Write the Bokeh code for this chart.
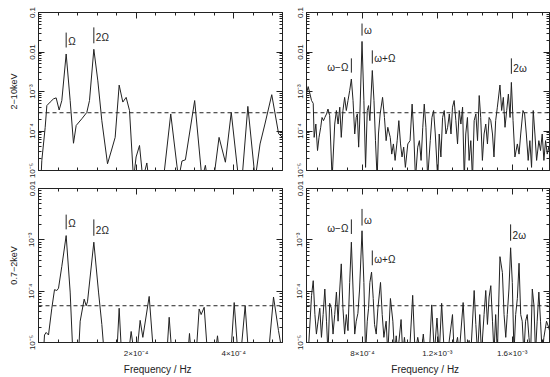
from bokeh.plotting import figure
from bokeh.models import Range1d, FixedTicker, LinearAxis, LogAxis, Span
from bokeh.layouts import gridplot
from bokeh.core.properties import value
from bokeh.embed import file_html
from bokeh.resources import INLINE

FONT = "Liberation Sans"
INK = "#222222"
FREQ_UNIT = 1e-4  # frequencies below are listed in units of 1e-4 Hz

# ---------------- data ----------------
# 2-10 keV, low-frequency range (0 - 5e-4 Hz)
hard_low_freq = [0.00, 0.05, 0.068, 0.137, 0.171, 0.239, 0.307, 0.362, 0.423, 0.478, 0.567, 0.649,
                 0.717, 0.772, 0.888, 0.990, 1.045, 1.134, 1.216, 1.298, 1.414, 1.503, 1.571, 1.653,
                 1.728, 1.796, 1.865, 1.947, 2.00, 2.07, 2.138, 2.22, 2.26, 2.56, 2.71, 2.87, 2.94,
                 3.01, 3.20, 3.35, 3.42, 3.46, 3.59, 3.70, 3.83, 3.95, 4.10, 4.17, 4.29, 4.44, 4.54,
                 4.64, 4.78, 4.92, 5.00]
hard_low_power = [6e-6, 6e-6, 1.8e-5, 1.23e-4, 4.4e-4, 5.4e-4, 6.5e-4, 6.9e-4, 3.4e-4, 5.9e-4, 8.9e-3,
                  5.9e-4, 4.9e-5, 1.38e-4, 2.04e-4, 2.95e-4, 5.9e-4, 1.17e-2, 1.86e-3, 1.82e-4, 1.48e-5,
                  3.5e-5, 6.9e-5, 1.45e-3, 5.4e-4, 7.1e-4, 3.3e-4, 6e-6, 2.2e-5, 4.3e-5, 6e-6, 1.55e-5,
                  6e-6, 6e-6, 2.7e-4, 6e-6, 1.74e-5, 1.86e-5, 5.9e-4, 6e-6, 1.35e-5, 6e-6, 6e-6, 6.9e-5,
                  1.62e-5, 2.95e-4, 6e-6, 6e-6, 4.2e-4, 6e-6, 4.7e-5, 1.5e-4, 8.3e-4, 8.5e-5, 6.9e-5]

# 2-10 keV, high-frequency range (5e-4 - 1.8e-3 Hz)
hard_high_freq = [5.00, 5.09, 5.27, 5.36, 5.41, 5.50, 5.59, 5.67, 5.76, 5.83, 5.91, 5.98, 6.07, 6.15,
                  6.24, 6.37, 6.51, 6.60, 6.69, 6.78, 6.86, 6.95, 7.04, 7.13, 7.22, 7.31, 7.40, 7.49,
                  7.58, 7.66, 7.72, 7.79, 7.84, 7.97, 8.07, 8.16, 8.25, 8.32, 8.39, 8.52, 8.61, 8.69,
                  8.78, 8.85, 8.94, 9.07, 9.17, 9.26, 9.35, 9.48, 9.56, 9.65, 9.74, 9.85, 9.94, 10.03,
                  10.11, 10.20, 10.29, 10.42, 10.54, 10.65, 10.74, 10.83, 10.95, 11.04, 11.13, 11.22,
                  11.30, 11.39, 11.48, 11.62, 11.71, 11.80, 11.89, 12.02, 12.10, 12.19, 12.28, 12.37,
                  12.46, 12.55, 12.64, 12.73, 12.81, 12.90, 12.99, 13.08, 13.17, 13.26, 13.35, 13.44,
                  13.52, 13.61, 13.70, 13.79, 13.88, 13.97, 14.06, 14.15, 14.24, 14.32, 14.41, 14.50,
                  14.59, 14.68, 14.77, 14.86, 14.95, 15.03, 15.12, 15.21, 15.35, 15.44, 15.53, 15.62,
                  15.71, 15.80, 15.89, 15.96, 16.05, 16.15, 16.28, 16.37, 16.46, 16.58, 16.67, 16.76,
                  16.86, 16.95, 17.04, 17.13, 17.22, 17.31, 17.43, 17.52, 17.61, 17.70, 17.79, 17.88,
                  17.96, 18.00]
hard_high_power = [9.0e-4, 1.33e-3, 5.9e-4, 5.0e-4, 6.9e-5, 1.5e-4, 3.2e-5, 6.9e-5, 1.24e-4, 2.2e-4,
                   1.83e-4, 2.2e-4, 2.7e-4, 3.6e-4, 2.45e-4, 6e-6, 1.5e-4, 3.3e-4, 1.5e-4, 4.0e-4,
                   6.9e-5, 3.3e-4, 7.1e-4, 3.3e-4, 5.9e-4, 1.05e-3, 2.07e-3, 5.9e-4, 8.4e-5, 2.2e-4,
                   2.7e-4, 3.9e-5, 1.5e-4, 1.85e-2, 5.9e-4, 1.2e-5, 3.3e-4, 4.4e-4, 1.83e-4, 3.4e-3,
                   5.9e-4, 5.7e-5, 6e-6, 8.4e-5, 2.7e-4, 7.1e-4, 2.2e-4, 5.7e-5, 1.24e-4, 6.9e-5,
                   2.6e-5, 4.7e-5, 1.8e-5, 5.7e-5, 1.83e-4, 4.7e-5, 2.2e-5, 3.9e-5, 1.2e-5, 4.7e-5,
                   5.7e-5, 4.8e-4, 8.4e-5, 6e-6, 3.9e-5, 5.7e-5, 1.8e-5, 1.24e-4, 4.8e-4, 1.24e-4,
                   6e-6, 5.7e-5, 2.2e-4, 3.3e-4, 8.4e-5, 6e-6, 8.4e-5, 2.2e-5, 2.2e-4, 3.3e-4, 8.4e-5,
                   1.24e-4, 2.7e-4, 8.4e-5, 4.0e-4, 5.9e-4, 1.83e-4, 4.7e-5, 3.3e-4, 1.5e-4, 4.0e-4,
                   6e-6, 8.4e-5, 2.2e-4, 1.8e-5, 5.7e-5, 6e-6, 1.83e-4, 2.7e-4, 5.7e-5, 7.9e-4, 2.2e-4,
                   1.8e-5, 8.4e-5, 1.5e-4, 4.7e-5, 2.2e-4, 1.83e-4, 8.4e-5, 2.2e-5, 1.83e-4, 4.0e-4,
                   1.46e-3, 3.3e-4, 7.1e-4, 1.24e-4, 3.3e-4, 8.6e-4, 2.2e-4, 1.7e-3, 1.83e-4, 2.2e-5,
                   4.7e-5, 2.6e-5, 8.4e-5, 3.3e-4, 2.7e-4, 8.4e-5, 1.8e-5, 5.7e-5, 1.2e-5, 3.3e-4,
                   8.4e-5, 1.8e-5, 5.7e-5, 3.2e-5, 8.4e-5, 1.8e-5, 5.7e-5, 2.6e-5, 3.9e-5, 3.0e-5]

# 0.7-2 keV, low-frequency range
soft_low_freq = [0.00, 0.10, 0.123, 0.157, 0.205, 0.273, 0.328, 0.376, 0.41, 0.478, 0.567, 0.649,
                 0.704, 0.82, 0.854, 0.936, 0.977, 1.004, 1.134, 1.23, 1.298, 1.346, 1.605, 1.653,
                 1.701, 1.844, 1.899, 1.96, 2.015, 2.083, 2.138, 2.268, 2.357, 2.63, 2.678, 2.732,
                 3.06, 3.094, 3.128, 3.231, 3.292, 3.333, 3.395, 3.463, 3.62, 3.668, 3.709, 3.941,
                 4.01, 4.085, 4.146, 4.235, 4.303, 4.713, 4.816, 4.918, 5.00]
soft_low_power = [6e-6, 6e-6, 1.4e-5, 1.57e-5, 1.4e-5, 4.65e-5, 1.07e-4, 1.03e-4, 1.14e-4, 3.05e-4,
                  1.21e-3, 9.6e-5, 6e-6, 6e-6, 2.6e-5, 7.0e-5, 5.2e-5, 6.2e-5, 9.0e-4, 9.6e-5, 2.25e-5,
                  6e-6, 6e-6, 4.65e-5, 6e-6, 6e-6, 1.64e-5, 6e-6, 6e-6, 2.7e-5, 1.26e-5, 7.9e-5, 6e-6,
                  6e-6, 3.1e-5, 6e-6, 6e-6, 1.5e-5, 6e-6, 6e-6, 4.5e-5, 3.5e-5, 4.85e-5, 6e-6, 6e-6,
                  1.35e-5, 6e-6, 6e-6, 6.0e-5, 6e-6, 6e-6, 5.2e-5, 6e-6, 6e-6, 7.7e-5, 1.7e-5, 6e-6]

# 0.7-2 keV, high-frequency range
soft_high_freq = [5.09, 5.27, 5.36, 5.45, 5.53, 5.62, 5.71, 5.80, 5.89, 5.98, 6.07, 6.15, 6.24, 6.33,
                  6.42, 6.51, 6.60, 6.69, 6.78, 6.86, 6.95, 7.04, 7.13, 7.22, 7.31, 7.40, 7.49, 7.58,
                  7.66, 7.75, 7.84, 7.97, 8.07, 8.16, 8.25, 8.32, 8.39, 8.48, 8.57, 8.64, 8.73, 8.82,
                  8.96, 9.05, 9.14, 9.26, 9.35, 9.49, 9.62, 9.71, 9.80, 9.88, 10.06, 10.15, 10.24,
                  10.33, 10.51, 10.68, 10.81, 10.95, 11.13, 11.25, 11.34, 11.57, 11.70, 11.84, 11.98,
                  12.10, 12.23, 12.37, 12.55, 12.81, 12.90, 13.08, 13.17, 13.38, 13.52, 13.70, 13.79,
                  13.97, 14.06, 14.15, 14.27, 14.36, 14.50, 14.59, 14.68, 14.77, 14.86, 14.95, 15.03,
                  15.12, 15.21, 15.35, 15.48, 15.57, 15.66, 15.74, 15.83, 15.92, 16.01, 16.10, 16.19,
                  16.28, 16.37, 16.46, 16.54, 16.63, 16.72, 16.81, 16.90, 16.99, 17.08, 17.17, 17.25,
                  17.34, 17.43, 17.52, 17.61, 17.70, 17.84, 17.96, 18.00]
soft_high_power = [6e-6, 8.3e-5, 1.6e-4, 3.5e-5, 1.46e-5, 2.6e-5, 4.65e-5, 1.26e-5, 3.5e-5, 1.1e-4,
                   2.6e-5, 6e-6, 5.8e-5, 4.65e-5, 1.46e-5, 3.5e-5, 9.6e-5, 2.6e-5, 1.1e-4, 3.4e-4,
                   4.65e-5, 1.46e-5, 3.5e-5, 1.7e-5, 1.48e-4, 9.0e-4, 1.1e-4, 1.46e-5, 2.6e-5, 3.7e-5,
                   1.1e-4, 1.5e-3, 1.48e-4, 6e-6, 2.6e-5, 4.65e-5, 1.48e-4, 2.35e-4, 7.2e-5, 2.25e-5,
                   1.46e-5, 4.65e-5, 1.48e-4, 3.5e-5, 1.26e-5, 2.6e-5, 6e-6, 7.2e-5, 2.6e-5, 6e-6,
                   1.35e-5, 6e-6, 2.8e-5, 6e-6, 1.26e-5, 6e-6, 6e-6, 8.3e-5, 6e-6, 1.26e-5, 6e-6,
                   1.46e-5, 6e-6, 6e-6, 5.4e-5, 6e-6, 3.0e-5, 6e-6, 5.8e-5, 6e-6, 6e-6, 3.5e-5, 6e-6,
                   1.26e-5, 6e-6, 6.0e-5, 6e-6, 1.1e-5, 6e-6, 1.03e-4, 2.25e-5, 6e-6, 3.5e-5, 6e-6,
                   3.5e-5, 1.03e-4, 2.25e-5, 7.7e-5, 1.28e-4, 2.6e-5, 6e-6, 3.5e-5, 6e-6, 4.7e-4,
                   2.3e-4, 3.5e-5, 1.26e-5, 3.5e-5, 1.1e-4, 7.0e-4, 1.48e-4, 6e-6, 3.5e-5, 7.2e-5,
                   3.5e-4, 3.5e-5, 2.6e-5, 6e-6, 2.6e-5, 3.5e-5, 1.26e-5, 6e-6, 1.1e-4, 5.2e-5, 6e-6,
                   2.6e-5, 9.6e-5, 2.6e-5, 6e-6, 1.26e-5, 2.6e-5, 1.95e-5, 1.7e-5]

# dashed significance levels
hard_level = 2.9e-4
soft_level = 5.2e-5

# feature marks: label, frequency (1e-4 Hz), bar bottom, bar top, label side
hard_low_marks = [("Ω", 0.567, 0.013, 0.031, "r"), ("2Ω", 1.134, 0.0166, 0.042, "r")]
hard_high_marks = [("ω", 7.97, 0.026, 0.0526, "r"), ("ω+Ω", 8.52, 0.0051, 0.011, "r"),
                   ("ω−Ω", 7.40, 0.0030, 0.0069, "l"), ("2ω", 15.96, 0.0028, 0.0069, "r")]
soft_low_marks = [("Ω", 0.567, 1.6e-3, 3.1e-3, "r"), ("2Ω", 1.134, 1.2e-3, 2.5e-3, "r")]
soft_high_marks = [("ω", 7.97, 1.9e-3, 4.0e-3, "r"), ("ω+Ω", 8.52, 3.2e-4, 6.2e-4, "r"),
                   ("ω−Ω", 7.40, 1.3e-3, 2.5e-3, "l"), ("2ω", 15.92, 9.6e-4, 2.0e-3, "r")]

# axes
low_xrange = (0.0, 5e-4)
high_xrange = (5e-4, 1.8e-3)
low_xticks = [2e-4, 4e-4]
low_xlabels = {2e-4: "2×10⁻⁴", 4e-4: "4×10⁻⁴"}
high_xticks = [8e-4, 1.2e-3, 1.6e-3]
high_xlabels = {8e-4: "8×10⁻⁴", 1.2e-3: "1.2×10⁻³", 1.6e-3: "1.6×10⁻³"}
low_xminor = [k * 4e-5 for k in range(0, 13)]
high_xminor = [5.6e-4 + k * 8e-5 for k in range(0, 16)]
y_decades = [1e-5, 1e-4, 1e-3, 1e-2, 1e-1]
y_labels = {1e-5: "10⁻⁵", 1e-4: "10⁻⁴", 1e-3: "10⁻³", 1e-2: "0.01", 1e-1: "0.1"}
y_minor = [m * d for d in [1e-5, 1e-4, 1e-3, 1e-2] for m in range(2, 10)]


def style_axis(ax, show_labels, label_size="8px", standoff=2):
    ax.axis_line_color = INK
    ax.major_tick_line_color = INK
    ax.minor_tick_line_color = INK
    ax.major_tick_in = 6
    ax.major_tick_out = 0
    ax.minor_tick_in = 3
    ax.minor_tick_out = 0
    ax.major_label_text_font = FONT
    if show_labels:
        ax.major_label_text_color = INK
        ax.major_label_text_font_size = label_size
        ax.major_label_standoff = standoff
    else:
        ax.major_label_text_color = None
        ax.major_label_text_font_size = "1px"
        ax.major_label_standoff = 0


def panel(freq, power, level, marks, xrange_, yrange_, xticks, xminor, xlabels, show_x,
          width, height, borders, ylabel=None, xlabel=None):
    left, right, top, bottom = borders
    p = figure(width=width, height=height, x_range=Range1d(*xrange_), y_range=Range1d(*yrange_),
               y_axis_type="log", output_backend="svg", toolbar_location=None,
               min_border_left=left, min_border_right=right, min_border_top=top,
               min_border_bottom=bottom)
    p.xgrid.visible = False
    p.ygrid.visible = False
    p.outline_line_color = INK
    p.background_fill_color = "white"
    p.border_fill_color = "white"

    xt = FixedTicker(ticks=xticks, minor_ticks=xminor)
    yt = FixedTicker(ticks=[d for d in y_decades if yrange_[0] <= d <= yrange_[1]], minor_ticks=y_minor)

    xa = p.xaxis[0]
    xa.ticker = xt
    xa.major_label_overrides = xlabels
    style_axis(xa, show_x, standoff=6)
    if xlabel:
        xa.axis_label = xlabel
        xa.axis_label_text_font = FONT
        xa.axis_label_text_font_style = "normal"
        xa.axis_label_text_font_size = "10px"
        xa.axis_label_text_color = INK
        xa.axis_label_standoff = 3

    ya = p.yaxis[0]
    ya.ticker = yt
    ya.major_label_overrides = y_labels
    ya.major_label_orientation = "vertical"
    style_axis(ya, True)
    if ylabel:
        ya.axis_label = ylabel
        ya.axis_label_text_font = FONT
        ya.axis_label_text_font_style = "normal"
        ya.axis_label_text_font_size = "9px"
        ya.axis_label_text_color = INK
        ya.axis_label_standoff = 6

    top_ax = LinearAxis(ticker=xt)
    style_axis(top_ax, False)
    p.add_layout(top_ax, "above")
    right_ax = LogAxis(ticker=yt)
    style_axis(right_ax, False)
    p.add_layout(right_ax, "right")

    p.line([f * FREQ_UNIT for f in freq], power, line_color=INK, line_width=1)
    p.add_layout(Span(location=level, dimension="width", line_color=INK, line_width=1,
                      line_dash="4 3"))

    for text, f, lo, hi, side in marks:
        x = f * FREQ_UNIT
        p.segment(x0=[x], y0=[lo], x1=[x], y1=[hi], line_color=INK, line_width=1)
        if side == "r":
            p.text(x=[x], y=[lo], text=[text], text_font=value(FONT), text_font_size="10px",
                   text_color=INK, text_align="left", text_baseline="bottom", x_offset=2)
        else:
            p.text(x=[x], y=[lo], text=[text], text_font=value(FONT), text_font_size="10px",
                   text_color=INK, text_align="right", text_baseline="bottom", x_offset=-3)
    return p


tl = panel(hard_low_freq, hard_low_power, hard_level, hard_low_marks, low_xrange, (1e-5, 0.1),
           low_xticks, low_xminor, low_xlabels, False, 292, 178, (38, 10, 12, 8), ylabel="2−10keV")
tr = panel(hard_high_freq, hard_high_power, hard_level, hard_high_marks, high_xrange, (1e-5, 0.1),
           high_xticks, high_xminor, high_xlabels, False, 258, 178, (13, 1, 12, 8))
bl = panel(soft_low_freq, soft_low_power, soft_level, soft_low_marks, low_xrange, (1e-5, 0.01),
           low_xticks, low_xminor, low_xlabels, True, 292, 199, (38, 10, 10, 30),
           ylabel="0.7−2keV", xlabel="Frequency  /  Hz")
br = panel(soft_high_freq, soft_high_power, soft_level, soft_high_marks, high_xrange, (1e-5, 0.01),
           high_xticks, high_xminor, high_xlabels, True, 258, 199, (13, 1, 10, 30),
           xlabel="Frequency  /  Hz")

grid = gridplot([[tl, tr], [bl, br]], toolbar_location=None)

open("out.html", "w").write(file_html(grid, INLINE))
